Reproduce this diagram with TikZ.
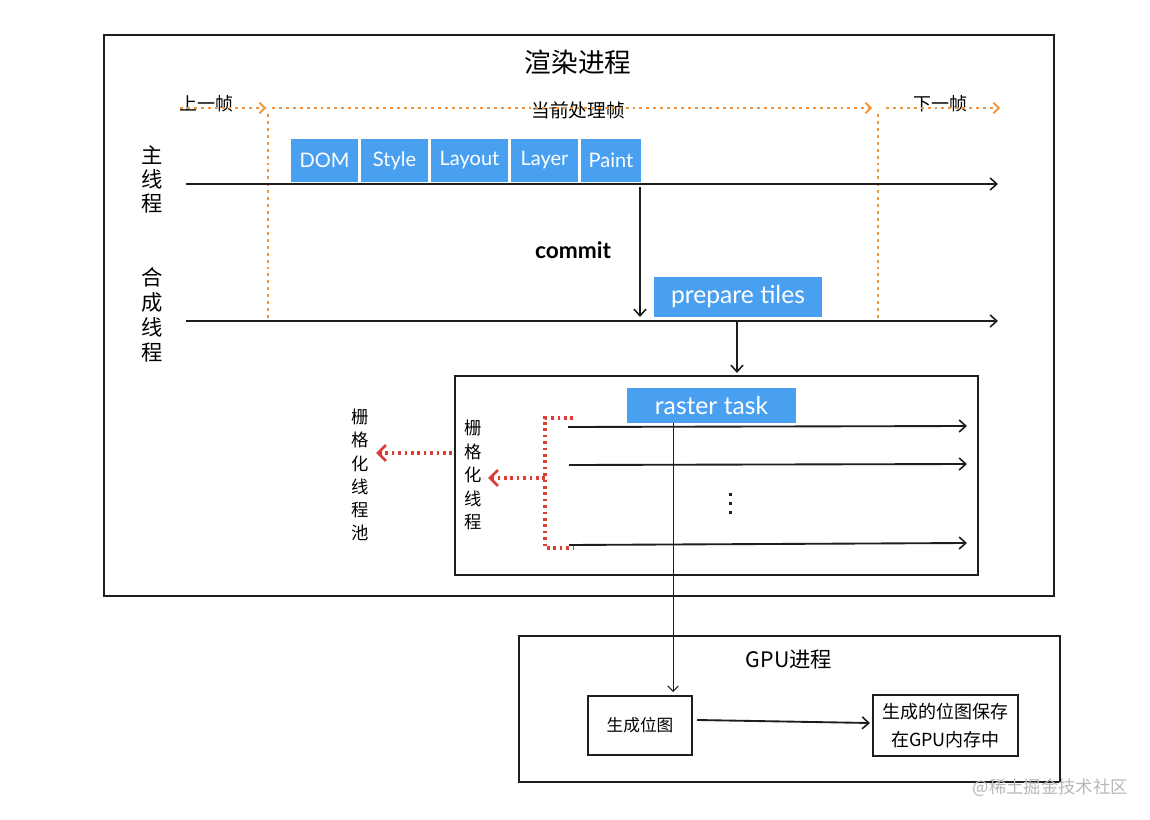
\documentclass[tikz,border=0pt]{standalone}
\usepackage{fontspec}
\setmainfont{Noto Sans CJK SC}
\newfontfamily\lat{Lato}
\usetikzlibrary{arrows.meta,fit}
\definecolor{blu}{RGB}{74,160,240}
\definecolor{org}{RGB}{240,150,60}
\definecolor{rd}{RGB}{218,62,52}
\definecolor{ink}{RGB}{30,30,30}
\begin{document}
\begin{tikzpicture}[x=0.75pt,y=-0.75pt,
  frame/.style={draw=ink,line width=1.4pt,inner sep=0pt},
  stage/.style={fill=blu,draw=none,inner sep=0pt},
  stagetxt/.style={text=white,inner sep=0pt,font=\lat\fontsize{15}{15}\selectfont},
  bigtxt/.style={text=white,inner sep=0pt,font=\lat\fontsize{18.5}{18.5}\selectfont},
  wbox/.style={draw=ink,line width=0.8pt,inner sep=0pt},
  tline/.style={draw=ink,line width=1.4pt,-{Straight Barb[length=5pt,width=9pt,line width=1.2pt]}},
  odot/.style={draw=org,line width=1.6pt,dash pattern=on 2.2pt off 3pt},
  oarr/.style={odot,-{Straight Barb[length=4pt,width=8pt,line width=1.4pt]}},
  rdot/.style={draw=rd,line width=2.3pt,dash pattern=on 2pt off 2.8pt},
  rarr/.style={rdot,-{Straight Barb[length=6pt,width=12pt,line width=2pt]}},
  vlab/.style={align=center,inner sep=0pt},
  cjk/.style={inner sep=0pt}]
\useasboundingbox (0,0) rectangle (1150,820);
\fill[white] (0,0) rectangle (1150,820);

% render process frame
\node[frame,fit={(104,35)(1054,596)}] (render) {};
\node[cjk,font=\fontsize{20}{20}\selectfont] (title) at (578,62) {渲染进程};

% frame markers
\node[cjk,font=\fontsize{13.5}{13.5}\selectfont] (prev) at (206,104) {上一帧};
\node[cjk,font=\fontsize{14}{14}\selectfont] (cur) at (578,110) {当前处理帧};
\node[cjk,font=\fontsize{13.5}{13.5}\selectfont] (next) at (940,104) {下一帧};
\coordinate (o0) at (180,108);
\coordinate (o1) at (266,108);
\coordinate (o2) at (272,108);
\coordinate (o3) at (872,108);
\coordinate (o4) at (886,108);
\coordinate (o5) at (1000,108);
\draw[oarr] (o0) -- (o1);
\draw[oarr] (o2) -- (o3);
\draw[oarr] (o4) -- (o5);
\coordinate (v0t) at (268,114);
\coordinate (v0b) at (268,320);
\coordinate (v1t) at (878,114);
\coordinate (v1b) at (878,320);
\draw[odot] (v0t) -- (v0b);
\draw[odot] (v1t) -- (v1b);

% main thread
\node[vlab,font=\fontsize{16}{18}\selectfont] (mainlab) at (152,179) {主\\线\\程};
\coordinate (m0) at (186,184);
\coordinate (m1) at (998,184);
\draw[tline] (m0) -- (m1);
\node[stage,fit={(291,139)(358,182)}] (dom) {};
\node[stage,fit={(361,139)(428,182)}] (style) {};
\node[stage,fit={(431,139)(508,182)}] (layout) {};
\node[stage,fit={(511,139)(578,182)}] (layer) {};
\node[stage,fit={(581,139)(641,182)}] (paint) {};
\node[stagetxt] (domt) at (dom.center) {DOM};
\node[stagetxt] (stylet) at (style.center) {Style};
\node[stagetxt] (layoutt) at (layout.center) {Layout};
\node[stagetxt] (layert) at (layer.center) {Layer};
\node[stagetxt] (paintt) at (paint.center) {Paint};

% commit
\coordinate (c0) at (640,187);
\coordinate (c1) at (640,317);
\draw[tline] (c0) -- (c1);
\node[cjk,font=\lat\bfseries\fontsize{17}{17}\selectfont] (commit) at (573,250) {commit};

% compositor thread
\node[vlab,font=\fontsize{16}{18.8}\selectfont] (complab) at (152,315) {合\\成\\线\\程};
\coordinate (k0) at (186,321);
\coordinate (k1) at (998,321);
\draw[tline] (k0) -- (k1);
\node[stage,fit={(654,277)(822,317)}] (tiles) {};
\node[bigtxt] (tilest) at (tiles.center) {prepare tiles};

% raster box
\node[frame,fit={(455,376)(978,575)}] (raster) {};
\coordinate (p0) at (737,322);
\coordinate (p1) at (737,373);
\draw[tline] (p0) -- (p1);
\node[stage,fit={(627,388)(796,423)}] (rtask) {};
\node[bigtxt] (rtaskt) at (rtask.center) {raster task};

\coordinate (r1a) at (568,427);
\coordinate (r1b) at (967,426);
\coordinate (r2a) at (569,465);
\coordinate (r2b) at (967,464);
\coordinate (r3a) at (569,545);
\coordinate (r3b) at (967,543);
\draw[tline] (r1a) -- (r1b);
\draw[tline] (r2a) -- (r2b);
\draw[tline] (r3a) -- (r3b);
\fill[ink] (729,493) rectangle (732,496);
\fill[ink] (729,502) rectangle (732,505);
\fill[ink] (729,511) rectangle (732,514);

% red bracket and arrows
\node[vlab,font=\fontsize{13}{17.6}\selectfont] (inlab) at (473,475) {栅\\格\\化\\线\\程};
\node[vlab,font=\fontsize{13}{17.4}\selectfont] (poollab) at (360,475) {栅\\格\\化\\线\\程\\池};
\coordinate (b0) at (573,418);
\coordinate (b1) at (545,418);
\coordinate (b2) at (545,548);
\coordinate (b3) at (573,548);
\coordinate (bm) at (545,478);
\coordinate (bt) at (488,478);
\draw[rdot] (b0) -- (b1) -- (b2) -- (b3);
\draw[rarr] (bm) -- (bt);
\coordinate (ra0) at (452,453);
\coordinate (ra1) at (376,453);
\draw[rarr] (ra0) -- (ra1);

% GPU process
\node[frame,fit={(519,636)(1060,782)}] (gpu) {};
\node[cjk,font=\fontsize{16}{16}\selectfont] (gpulab) at (789,660) {GPU进程};
\node[wbox,fit={(588,696)(692,755)}] (bmp) {};
\node[cjk,font=\fontsize{12.5}{12.5}\selectfont] (bmptxt) at (bmp.center) {生成位图};
\node[wbox,fit={(873,695)(1018,756)}] (store) {};
\node[vlab,font=\fontsize{13.5}{21.5}\selectfont] (storetxt) at (store.center) {生成的位图保存\\在GPU内存中};
\coordinate (gv) at (673,692);
\draw[draw=ink,line width=0.6pt,-{Straight Barb[length=4pt,width=8pt,line width=0.8pt]}] (rtask.south -| gv) -- (gv);
\coordinate (ga) at (697,720);
\coordinate (gb) at (870,723);
\draw[tline] (ga) -- (gb);

% watermark
\node[cjk,anchor=east,text=black!28,font=\fontsize{13}{13}\selectfont] (wm) at (1128,788) {@稀土掘金技术社区};
\end{tikzpicture}
\end{document}
